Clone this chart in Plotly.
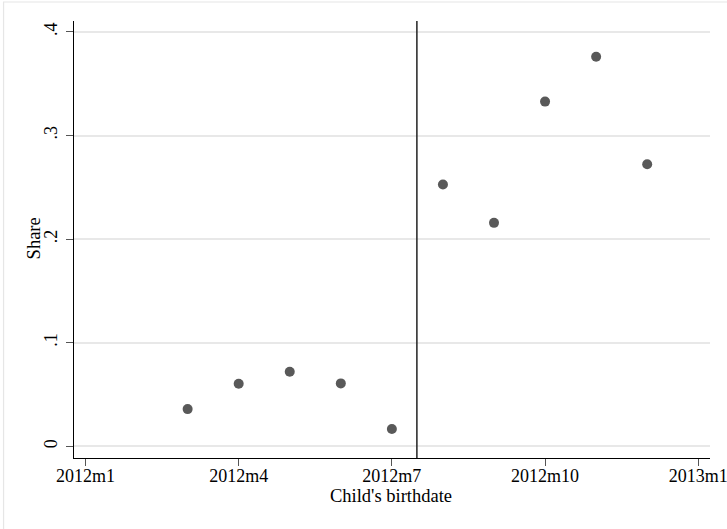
import plotly.graph_objects as go

# Data: months indexed from 2012m1 = 0
months = [2, 3, 4, 5, 6, 7, 8, 9, 10, 11]
share = [0.036, 0.0605, 0.072, 0.0608, 0.0168, 0.2527, 0.2157, 0.3327, 0.376, 0.2723]
cutoff = 6.49
x_tickvals = [0, 3, 6, 9, 12]
x_ticktext = ["2012m1", "2012m4", "2012m7", "2012m10", "2013m1"]
y_tickvals = [0, 0.1, 0.2, 0.3, 0.4]
y_ticktext = ["0", ".1", ".2", ".3", ".4"]
x_title = "Child's birthdate"
y_title = "Share"

W, H = 727, 529
L, R, T, B = 73.5, 17, 21, 70.7
pw, ph = W - L - R, H - T - B

fam = "Liberation Serif, Times New Roman, serif"
tick_font = dict(family=fam, size=18, color="#000000")
title_font = dict(family=fam, size=18.5, color="#000000")

fig = go.Figure()
fig.add_trace(go.Scatter(
    x=months, y=share, mode="markers",
    marker=dict(size=10, color="#595959", line=dict(width=0)),
    showlegend=False, hoverinfo="skip", cliponaxis=False,
))

fig.add_shape(type="line", xref="x", yref="paper", x0=cutoff, x1=cutoff, y0=0, y1=1,
              line=dict(color="#222222", width=1.5))

# faint outer frame (left and top edges visible)
fig.add_shape(type="rect", xref="paper", yref="paper",
              x0=(3 - L) / pw, x1=(W + 10 - L) / pw,
              y0=-(B + 10) / ph, y1=1 + (T - 2) / ph,
              line=dict(color="#e6e6e6", width=1.2), layer="below")

# axis titles as annotations (pixel-placed)
fig.add_annotation(text=x_title, xref="paper", yref="paper",
                   x=(390.5 - L) / pw, y=-(496 - (H - B)) / ph,
                   showarrow=False, font=title_font, xanchor="center", yanchor="middle")
fig.add_annotation(text=y_title, xref="paper", yref="paper",
                   x=-(L - 33) / pw, y=(H - B - 239) / ph, textangle=-90,
                   showarrow=False, font=title_font, xanchor="center", yanchor="middle")

fig.update_layout(
    width=W, height=H,
    margin=dict(l=L, r=R, t=T, b=B, pad=0, autoexpand=False),
    paper_bgcolor="white", plot_bgcolor="white",
    font=tick_font,
    xaxis=dict(
        range=[-0.225, 12.23], tickvals=x_tickvals, ticktext=x_ticktext,
        showgrid=False, zeroline=False, automargin=False,
        showline=True, linecolor="#000000", linewidth=1.4,
        ticks="outside", ticklen=7, tickwidth=1.2, tickcolor="#555555",
        tickfont=tick_font, ticklabeloverflow="allow", ticklabelstandoff=-6,
    ),
    yaxis=dict(
        range=[-0.0112, 0.4105], tickvals=y_tickvals, ticktext=y_ticktext,
        showgrid=True, gridcolor="#e8e8e8", gridwidth=1.5, zeroline=False, automargin=False,
        showline=True, linecolor="#000000", linewidth=1.4,
        ticks="outside", ticklen=7, tickwidth=1.2, tickcolor="#555555",
        tickangle=-90, tickfont=tick_font, ticklabelstandoff=2,
    ),
)

fig.write_html("out.html", config={"displayModeBar": False},
               post_script="document.body.style.margin='0';document.body.style.padding='0';")
